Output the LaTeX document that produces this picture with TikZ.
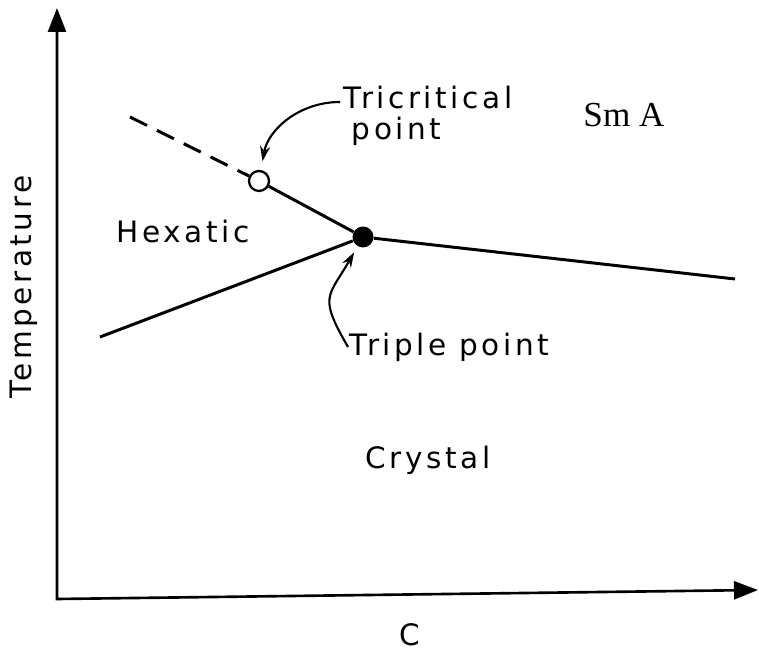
\documentclass[tikz,border=0pt]{standalone}
\usepackage{fontspec}
\usetikzlibrary{arrows.meta}
\newfontfamily\letterfont{DejaVu Sans}[LetterSpace=12]
\newfontfamily\romanfont{Liberation Serif}
\begin{document}
\begin{tikzpicture}[x=0.02cm, y=0.02cm,
  >={Stealth[length=3mm, width=2mm]},
  axis/.style={line width=1.5pt, {Triangle[length=4.8mm, width=3.6mm]}-{Triangle[length=4.8mm, width=3.6mm]}},
  boundary/.style={line width=1.7pt},
  note/.style={font=\letterfont\fontsize{16.8}{17.6}\selectfont, inner sep=2pt},
  pointer/.style={->, line width=1.2pt},
  opendot/.style={circle, draw, line width=1.3pt, fill=white, minimum size=4mm, inner sep=0pt},
  fulldot/.style={circle, fill, minimum size=4.2mm, inner sep=0pt}]
\useasboundingbox (0,0) rectangle (759,651);
% axes
\coordinate (orig) at (57,52);
\coordinate (ytip) at (57,643);
\coordinate (xtip) at (758,61);
\draw[axis] (ytip) -- (orig) -- (xtip);
\node[note, rotate=90] (tlabel) at (24,364) {Temperature};
\node[note] (clabel) at (410,16) {C};
% phase boundaries
\node[opendot] (tcp) at (259,470) {};
\node[fulldot] (tp) at (363,414) {};
\coordinate (dashend) at (130,534);
\coordinate (rightend) at (735,372);
\coordinate (leftend) at (100,314);
\draw[boundary, dash pattern=on 3.8mm off 2.2mm] (dashend) -- (tcp);
\draw[boundary] (tcp) -- (tp) -- (rightend);
\draw[boundary] (leftend) -- (tp);
% phases
\node[note] (hexatic) at (183,419) {Hexatic};
\node[note] (crystal) at (428,191) {Crystal};
\node[font=\romanfont\fontsize{20}{22}\selectfont] (sma) at (624,536) {Sm A};
% special points
\node[note, anchor=west, align=left] (tclabel) at (340,535) {Tricritical\\\hspace*{1.6mm}point};
\node[note, anchor=west] (tplabel) at (346,304) {Triple point};
\draw[pointer, shorten >=1.8mm] ([yshift=2.8mm]tclabel.west) to[out=180, in=80] (tcp);
\draw[pointer, shorten >=1.4mm] ([xshift=0.4mm]tplabel.west) to[out=120, in=240, looseness=1.5] (tp);
\end{tikzpicture}
\end{document}
